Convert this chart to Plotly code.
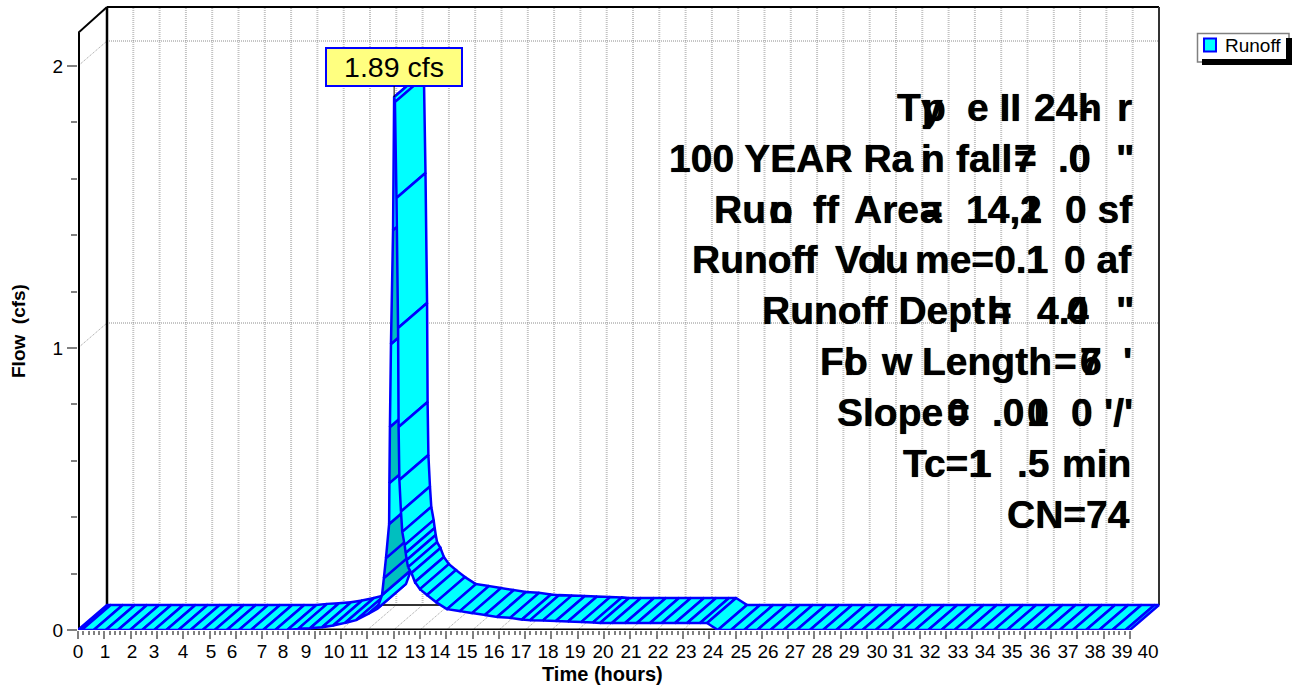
import plotly.graph_objects as go

# ---------- data ----------
time_hours = [0, 0.14, 0.6, 1.06, 1.52, 1.98, 2.44, 2.9, 3.36, 3.82, 4.28, 4.74, 5.2, 5.66, 6.12, 6.58, 7.04, 7.5, 7.96,
              8.37, 8.82, 9.28, 9.7, 10.15, 10.57, 11.03, 11.37, 11.56, 11.63, 11.71, 11.83, 11.84, 11.86, 11.9, 11.98, 12.02,
              12.05, 12.11, 12.17, 12.19, 12.22, 12.28, 12.33, 12.42, 12.46, 12.5, 12.55, 12.68, 12.81, 13.0, 13.27, 13.61,
              14.03, 14.52, 14.98, 15.47, 15.93, 16.43, 16.88, 17.19, 17.68, 18.17, 18.63, 19.13, 19.58, 19.85, 20.3, 20.8,
              21.25, 21.75, 22.2, 22.7, 23.16, 23.65, 23.92, 24.33, 24.83, 25.33, 25.83, 26.33, 26.83, 27.33, 27.83, 28.33,
              28.83, 29.33, 29.83, 30.33, 30.83, 31.33, 31.83, 32.33, 32.83, 33.33, 33.83, 34.33, 34.83, 35.33, 35.83, 36.33,
              36.83, 37.33, 37.83, 38.33, 38.83, 39.33, 39.83, 40]
flow_cfs = [0, 0, 0, 0, 0, 0, 0, 0, 0, 0, 0, 0, 0, 0, 0, 0, 0, 0, 0,
            0.004, 0.006, 0.01, 0.016, 0.025, 0.035, 0.057, 0.075, 0.124, 0.184, 0.255, 0.376, 0.521, 0.72, 1.014, 1.418, 1.89,
            1.872, 1.532, 1.071, 0.72, 0.532, 0.42, 0.348, 0.301, 0.273, 0.248, 0.223, 0.202, 0.17, 0.145, 0.124, 0.099,
            0.074, 0.067, 0.06, 0.053, 0.046, 0.043, 0.037, 0.035, 0.034, 0.032, 0.03, 0.028, 0.027, 0.025, 0.025, 0.025,
            0.025, 0.025, 0.025, 0.025, 0.025, 0.025, 0.025, 0, 0, 0, 0, 0, 0, 0, 0, 0,
            0, 0, 0, 0, 0, 0, 0, 0, 0, 0, 0, 0, 0, 0, 0, 0,
            0, 0, 0, 0, 0, 0, 0, 0]
x_tick_values = list(range(41))
x_tick_text = [str(v) for v in x_tick_values]
y_tick_values = [0, 1, 2]
y_tick_text = ["0", "1", "2"]
series_name = "Runoff"
peak_label = "1.89 cfs"
x_title = "Time (hours)"
y_title = "Flow\u00a0\u00a0(cfs)"

# ---------- layout constants (page pixels) ----------
W, H = 1295, 687
LEFT, RIGHT, TOP, BOTTOM = 78, 1165, 3, 630
WALL_TOP = 7
PX_PER_HOUR = 26.3
PX_PER_CFS = 282.0
DX = 29 / PX_PER_HOUR          # depth of the pseudo-3D box, hours
DY = 25 / PX_PER_CFS           # depth of the pseudo-3D box, cfs
X_END = 40
Y_TOP_FRONT = (BOTTOM - 33) / PX_PER_CFS
Y_TOP_BACK = (BOTTOM - WALL_TOP) / PX_PER_CFS
FONT = "Liberation Sans"
CYAN, TEAL, BLUE = "#00FFFF", "#00BFBF", "#0000FF"


def hours(px):
    return (px - LEFT) / PX_PER_HOUR


def paper_x(px):
    return (px - LEFT) / (RIGHT - LEFT)


def paper_y(px):
    return (BOTTOM - px) / (BOTTOM - TOP)


# pixel centres of the x tick labels (they drift away from their ticks in the source)
tick_label_px = [78, 105, 132, 154, 183, 211, 232, 262, 283, 306, 334, 359, 387, 415, 440, 467, 494, 521, 548, 575, 603,
                 631, 658, 686, 713, 741, 768, 795, 822, 849, 877, 903, 930, 958, 985, 1012, 1040, 1068, 1095, 1122, 1148]

# segments that the source shades darker (start hour of the segment)
dark_starts = {11.56, 11.63, 11.71, 11.84, 11.9}

fig = go.Figure()

# ---------- front axis lines: traces, so that they are not clipped at the plot edge ----------
fig.add_trace(go.Scatter(x=[0, 0], y=[0, Y_TOP_FRONT], mode="lines", line=dict(color="black", width=4),
                         showlegend=False, hoverinfo="skip", cliponaxis=False))
fig.add_trace(go.Scatter(x=[0, X_END], y=[0, 0], mode="lines", line=dict(color="black", width=3),
                         showlegend=False, hoverinfo="skip", cliponaxis=False))

# ---------- ribbon ----------
for i in range(len(time_hours) - 1):
    t0, t1 = time_hours[i], time_hours[i + 1]
    q0, q1 = flow_cfs[i], flow_cfs[i + 1]
    fig.add_trace(go.Scatter(
        x=[t0, t1, t1 + DX, t0 + DX, t0],
        y=[q0, q1, q1 + DY, q0 + DY, q0],
        mode="lines", fill="toself",
        fillcolor=TEAL if t0 in dark_starts else CYAN,
        line=dict(color=BLUE, width=2.5),
        name=series_name, legendgroup=series_name,
        showlegend=False, hoverinfo="skip", cliponaxis=False,
    ))

# ---------- box, walls, grid ----------
shapes = []


def seg(x0, y0, x1, y1, color, width, dash="solid", layer="below"):
    shapes.append(dict(type="line", xref="x", yref="y", x0=x0, y0=y0, x1=x1, y1=y1,
                       line=dict(color=color, width=width, dash=dash), layer=layer))


for v in x_tick_values[1:-1]:
    seg(v + DX, DY, v + DX, Y_TOP_BACK, "#c2c2c2", 2, "1px,1px")
    seg(v, 0, v + DX, DY, "#a0a0a0", 1, "1px,1px")
for v in y_tick_values[1:]:
    seg(DX, v + DY, X_END + DX, v + DY, "#8c8c8c", 1, "1px,1px")
    seg(0, v, DX, v + DY, "#a0a0a0", 1, "1px,1px")

seg(DX, DY, X_END + DX, DY, "#333333", 2)                       # floor back edge
seg(DX, DY, DX, Y_TOP_BACK, "black", 2.5)                       # back wall left
seg(DX, Y_TOP_BACK, X_END + DX, Y_TOP_BACK, "black", 2)         # back wall top
seg(X_END + DX, DY, X_END + DX, Y_TOP_BACK, "#333333", 2)       # back wall right
seg(0, Y_TOP_FRONT, DX, Y_TOP_BACK, "black", 2)                 # top-left diagonal


# ---------- legend, drawn as the source draws it ----------
def box(x0, y0, x1, y1, fill, line_color, width):
    shapes.append(dict(type="rect", xref="paper", yref="paper",
                       x0=paper_x(x0), x1=paper_x(x1), y0=paper_y(y1), y1=paper_y(y0),
                       fillcolor=fill, line=dict(color=line_color, width=width), layer="above"))


box(1197.5, 33.5, 1289, 62, "white", "#808080", 1.5)
box(1286, 38, 1292, 65, "black", "black", 0)
box(1202, 59, 1292, 65, "black", "black", 0)
box(1204, 38.5, 1216, 51.5, CYAN, BLUE, 2)

annotations = [
    dict(xref="paper", yref="paper", x=paper_x(1224), y=paper_y(45.5), text=series_name,
         xanchor="left", yanchor="middle", showarrow=False, borderpad=0,
         font=dict(family=FONT, size=19, color="black")),
    dict(xref="paper", yref="paper", x=paper_x(602), y=paper_y(674), text=x_title,
         xanchor="center", yanchor="middle", showarrow=False, borderpad=0,
         font=dict(family=FONT, size=20, color="black", weight="bold")),
    dict(xref="paper", yref="paper", x=paper_x(18), y=paper_y(331), text=y_title, textangle=-90,
         xanchor="center", yanchor="middle", showarrow=False, borderpad=0,
         font=dict(family=FONT, size=19, color="black", weight="bold")),
]

# peak label with its leader
peak_index = flow_cfs.index(max(flow_cfs))
annotations.append(dict(
    xref="x", yref="y", x=time_hours[peak_index], y=flow_cfs[peak_index], text=peak_label,
    showarrow=True, arrowhead=0, arrowwidth=1, arrowcolor="black", ax=0, ay=-30, standoff=0,
    width=134, height=36, align="center", valign="middle", bgcolor="#FFFF80",
    bordercolor=BLUE, borderwidth=2, borderpad=0,
    font=dict(family=FONT, size=28.5, color="black"),
))

# ---------- note text: the source draws some glyphs on top of their neighbours,
# so every line is a set of runs, each with the pixel where it starts ----------
note_lines = [
    [("T", 896), ("y", 920), ("p", 921), ("e II", 966), ("24", 1033), ("-", 1079), ("h", 1077), ("r", 1116)],
    [("100 YEAR Ra", 668), ("i", 920), ("n", 920), ("fall", 955), ("=", 1013), ("7", 1013), (".0", 1057), ("0", 1068), ('"', 1115)],
    [("Ru", 713), ("n", 768), ("o", 768), ("ff", 812), ("Are", 853), ("a", 919), ("=", 919), ("14,", 965), ("2", 1019), ("1", 1019), ("0 sf", 1064)],
    [("Runoff", 691), ("Vo", 834), ("l", 875), ("u", 884), ("me=0.1", 914), ("1", 1025), ("0 af", 1063)],
    [("Runoff Dept", 761), ("h", 986), ("=", 988), ("4.", 1036), ("0", 1066), ("4", 1066), ('"', 1115)],
    [("F", 819), ("l", 843), ("o", 843), ("w", 880), ("Length", 921), ("=", 1053), ("7", 1079), ("6", 1079), ("'", 1122)],
    [("Slope", 836), ("=", 946), ("0", 946), (".0", 991), ("1", 1026), ("0", 1026), ("0", 1070), ("'/'", 1103)],
    [("Tc=1", 902), ("1", 968.5), (".5", 1016), ("min", 1061)],
    [("CN=74", 1006)],
]
BASELINE0, LINE_STEP, NOTE_SIZE = 120.6, 50.9, 39
for row, runs in enumerate(note_lines):
    centre = BASELINE0 + row * LINE_STEP - 13.4
    for text, px in runs:
        annotations.append(dict(
            xref="paper", yref="paper", x=paper_x(px), y=paper_y(centre), text=text,
            xanchor="left", yanchor="middle", showarrow=False, borderpad=0,
            font=dict(family=FONT, size=NOTE_SIZE, color="black", weight="bold",
                      shadow="0 0 0.7px #000")))

# ---------- axes ----------
x_minor = [round(v * 0.2, 1) for v in range(0, 201) if v % 5]
y_minor = [round(v * 0.2, 1) for v in range(0, 11) if v % 5]

fig.update_layout(
    width=W, height=H, autosize=False,
    margin=dict(l=LEFT, r=W - RIGHT, t=TOP, b=H - BOTTOM, pad=0),
    paper_bgcolor="white", plot_bgcolor="rgba(0,0,0,0)",
    showlegend=False,
    shapes=shapes, annotations=annotations,
    font=dict(family=FONT, size=19, color="black"),
    xaxis=dict(
        range=[0, (RIGHT - LEFT) / PX_PER_HOUR], showgrid=False, zeroline=False, showline=False,
        tickmode="array", tickvals=x_tick_values, showticklabels=False,
        ticks="outside", ticklen=8, tickwidth=2, tickcolor="#808080",
        minor=dict(tickmode="array", tickvals=x_minor, ticks="outside", ticklen=4, tickwidth=1.5, tickcolor="#808080"),
    ),
    xaxis2=dict(
        overlaying="x", anchor="y", side="bottom",
        range=[0, (RIGHT - LEFT) / PX_PER_HOUR], showgrid=False, zeroline=False, showline=False,
        tickmode="array", tickvals=[hours(p) for p in tick_label_px], ticktext=x_tick_text,
        ticks="outside", ticklen=4, tickcolor="rgba(0,0,0,0)", tickangle=0,
        tickfont=dict(family=FONT, size=19, color="black"),
    ),
    yaxis=dict(
        range=[0, (BOTTOM - TOP) / PX_PER_CFS], showgrid=False, zeroline=False, showline=False,
        tickmode="array", tickvals=y_tick_values, ticktext=y_tick_text,
        ticks="outside", ticklen=10, tickwidth=2, tickcolor="#808080",
        tickfont=dict(family=FONT, size=19, color="black"),
        minor=dict(tickmode="array", tickvals=y_minor, ticks="outside", ticklen=6, tickwidth=2, tickcolor="#808080"),
    ),
)
# an empty trace so the overlay axis carrying the tick labels is drawn
fig.add_trace(go.Scatter(x=[None], y=[None], xaxis="x2", yaxis="y", showlegend=False, hoverinfo="skip"))

fig.write_html("out.html", config={"displayModeBar": False},
               post_script="document.body.style.margin='0';document.documentElement.style.overflow='hidden';")
